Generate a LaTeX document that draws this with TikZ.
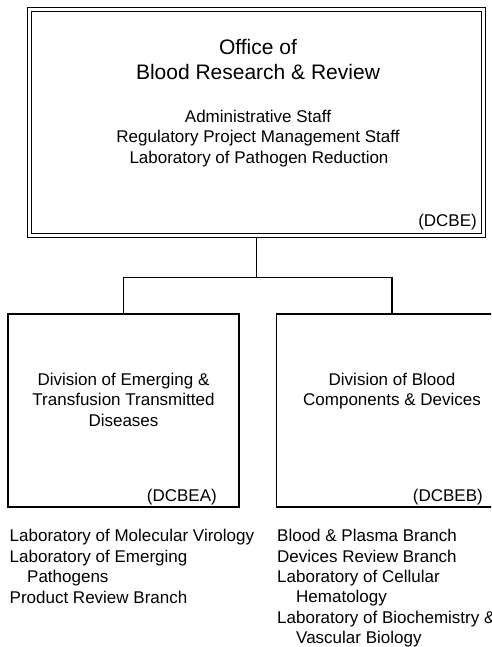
\documentclass[tikz,border=0pt]{standalone}
\usepackage{fontspec}
\setmainfont{Liberation Sans}
\begin{document}
\begin{tikzpicture}[x=1pt,y=-1pt,
  txt/.style={inner sep=0pt, font=\fontsize{17}{20}\selectfont},
  ttl/.style={inner sep=0pt, font=\fontsize{21}{25}\selectfont},
  topbox/.style={draw, line width=1.2pt, double, double distance=3.2pt, inner sep=0pt, outer sep=2.8pt, minimum width=454pt, minimum height=226pt},
  divbox/.style={draw, line width=1.3pt, inner sep=0pt, minimum width=231pt, minimum height=193pt},
  conn/.style={line width=1.4pt}]
\useasboundingbox (0,0) rectangle (491,647);
\clip (0,0) rectangle (491,647);
\fill[white] (0,0) rectangle (491,647);
% boxes
\node[topbox] (top) at (256.6,122.4) {};
\node[divbox] (left) at (123.5,410.5) {};
\node[divbox] (right) at (392,410.5) {};
% connectors
\draw[conn] (top.south) -- ++(0,39) coordinate (j);
\draw[conn] (left.north) |- (j) -| (right.north);
% top box text
\node[ttl, anchor=base] (t1) at (258,54.3) {Office of};
\node[ttl, anchor=base] (t2) at (258,80) {Blood Research \& Review};
\node[txt, anchor=base] (s1) at (258,122.3) {Administrative Staff};
\node[txt, anchor=base] (s2) at (258,142.7) {Regulatory Project Management Staff};
\node[txt, anchor=base] (s3) at (259,163.3) {Laboratory of Pathogen Reduction};
\node[txt, anchor=base east] (c0) at (477,226) {(DCBE)};
% division texts
\node[txt, anchor=base] (a1) at (123.5,385) {Division of Emerging \&};
\node[txt, anchor=base] (a2) at (123.5,405.5) {Transfusion Transmitted};
\node[txt, anchor=base] (a3) at (123.5,426) {Diseases};
\node[txt, anchor=base east] (ca) at (217,501.7) {(DCBEA)};
\node[txt, anchor=base] (b1) at (392,385) {Division of Blood};
\node[txt, anchor=base] (b2) at (392,405.5) {Components \& Devices};
\node[txt, anchor=base east] (cb) at (483,501.7) {(DCBEB)};
% lists
\node[txt, anchor=base west] (l1) at (9.5,541.7) {Laboratory of Molecular Virology};
\node[txt, anchor=base west] (l2) at (9.5,562.3) {Laboratory of Emerging};
\node[txt, anchor=base west] (l3) at (27,582.8) {Pathogens};
\node[txt, anchor=base west] (l4) at (9.5,603.3) {Product Review Branch};
\node[txt, anchor=base west] (r1) at (277,541.7) {Blood \& Plasma Branch};
\node[txt, anchor=base west] (r2) at (277,562.1) {Devices Review Branch};
\node[txt, anchor=base west] (r3) at (277,582.5) {Laboratory of Cellular};
\node[txt, anchor=base west] (r4) at (296,602.9) {Hematology};
\node[txt, anchor=base west] (r5) at (277,623.3) {Laboratory of Biochemistry \&};
\node[txt, anchor=base west] (r6) at (296,643.7) {Vascular Biology};
\end{tikzpicture}
\end{document}
